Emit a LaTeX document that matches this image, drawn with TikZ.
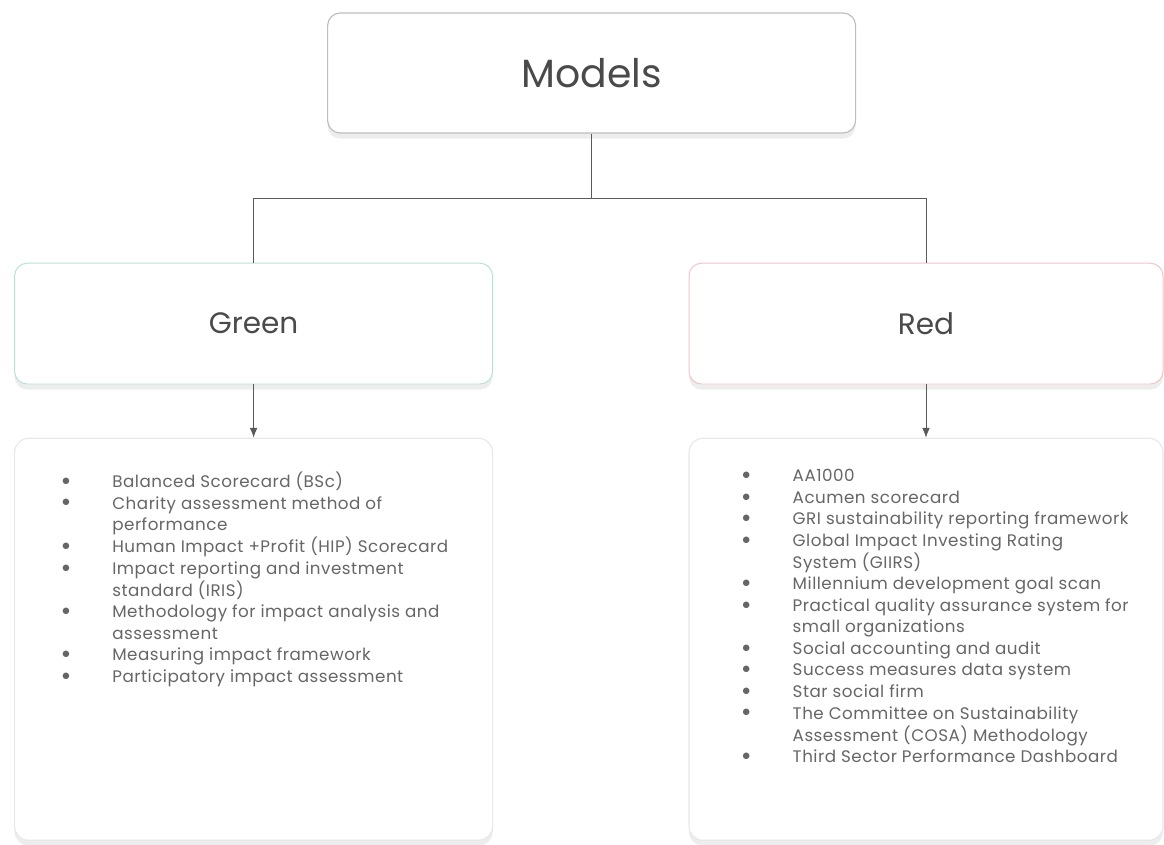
\documentclass[tikz,border=0pt]{standalone}
\usepackage{fontspec}
\setmainfont{Poppins}
\newfontfamily\listfont[LetterSpace=3]{Poppins}
\newfontfamily\symfont{DejaVu Sans}
\usepackage{xcolor}
\usepackage{tikz}
\usetikzlibrary{positioning}
\usetikzlibrary{arrows.meta}
\usetikzlibrary{shadows}

\definecolor{linegray}{HTML}{5A5A5A}
\definecolor{textgray}{HTML}{4A4A4A}
\definecolor{listgray}{HTML}{666666}
\definecolor{tealborder}{HTML}{B4E2D9}
\definecolor{pinkborder}{HTML}{F2C4C4}
\definecolor{boxborder}{HTML}{BDBDBD}
\definecolor{listborder}{HTML}{E8E8E8}

\newcommand{\dotmark}{\raisebox{0.45ex}{\symfont\fontsize{6}{6}\selectfont ●}}
\newcommand{\itemlist}[1]{%
  {\listfont\fontsize{11.9}{15.3}\selectfont\color{listgray}%
  \begin{tabular}{@{}p{1.25cm}@{}l@{}}#1\end{tabular}}}

\begin{document}
\begin{tikzpicture}[
        node distance=1.3cm and 0.5cm,
        softshadow/.style={drop shadow={shadow xshift=0pt, shadow yshift=-4pt, opacity=0.07, fill=black}},
        titlebox/.style={rectangle, draw=boxborder, fill=white, rounded corners=9pt, line width=0.8pt, softshadow, minimum width=13.2cm, minimum height=3cm, font=\fontsize{28}{32}\selectfont, text=textgray},
        groupbox/.style={rectangle, fill=white, rounded corners=9pt, line width=0.7pt, softshadow, minimum width=11.95cm, minimum height=3.02cm, font=\fontsize{21}{25}\selectfont, text=textgray},
        listbox/.style={rectangle, draw=listborder, fill=white, rounded corners=10pt, line width=0.8pt, softshadow, minimum width=11.95cm, minimum height=10.05cm},
        items/.style={inner sep=0pt, align=left},
        link/.style={draw=linegray, line width=0.7pt},
        arrow/.style={-{Latex[length=7pt,width=5.5pt]}, draw=linegray, line width=0.7pt}
    ]
        \useasboundingbox (0,0) rectangle (29.1,-21.1);

        % top and the two groups
        \node[titlebox] (models) at (14.79,-1.825) {Models};
        \node[groupbox, draw=tealborder] (green) at (6.34,-8.09) {Green};
        \node[groupbox, draw=pinkborder, minimum width=11.85cm] (red) at (23.15,-8.09) {Red};

        % list boxes
        \node[listbox, below=1.33cm of green] (glist) {};
        \node[listbox, below=1.33cm of red, minimum width=11.85cm] (rlist) {};

        \node[items, below right=0.85cm and 1.2cm of glist.north west] (gitems) {\itemlist{%
            \dotmark & Balanced Scorecard (BSc)\\
            \dotmark & Charity assessment method of\\
                     & performance\\
            \dotmark & Human Impact +Profit (HIP) Scorecard\\
            \dotmark & Impact reporting and investment\\
                     & standard (IRIS)\\
            \dotmark & Methodology for impact analysis and\\
                     & assessment\\
            \dotmark & Measuring impact framework\\
            \dotmark & Participatory impact assessment}};

        \node[items, below right=0.72cm and 1.35cm of rlist.north west] (ritems) {\itemlist{%
            \dotmark & AA1000\\
            \dotmark & Acumen scorecard\\
            \dotmark & GRI sustainability reporting framework\\
            \dotmark & Global Impact Investing Rating\\
                     & System (GIIRS)\\
            \dotmark & Millennium development goal scan\\
            \dotmark & Practical quality assurance system for\\
                     & small organizations\\
            \dotmark & Social accounting and audit\\
            \dotmark & Success measures data system\\
            \dotmark & Star social firm\\
            \dotmark & The Committee on Sustainability\\
                     & Assessment (COSA) Methodology\\
            \dotmark & Third Sector Performance Dashboard}};

        % connectors
        \coordinate (split) at (14.79,-4.95);
        \draw[link] (models.south) -- (split);
        \draw[link] (split) -| (green.north);
        \draw[link] (split) -| (red.north);
        \draw[arrow] (green.south) -- (glist.north);
        \draw[arrow] (red.south) -- (rlist.north);
    \end{tikzpicture}
\end{document}
